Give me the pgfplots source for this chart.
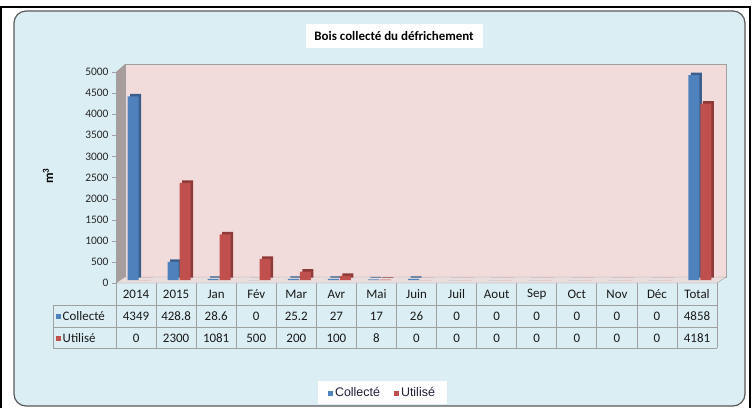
\documentclass[border=0pt]{standalone}
\usepackage{pgfplots}
\pgfplotsset{compat=1.18}
\usepackage{fontspec}
\setmainfont{Carlito}
\newfontfamily\arial{Liberation Sans}
\definecolor{bgblue}{HTML}{DBEEF4}
\definecolor{wallpink}{HTML}{F2DCDB}
\definecolor{wallgray}{HTML}{A69D9C}
\definecolor{floorc}{HTML}{E9DDDD}
\definecolor{cblue}{HTML}{4F81BD}
\definecolor{cbluedk}{HTML}{3A5F8C}
\definecolor{cred}{HTML}{C0504D}
\definecolor{creddk}{HTML}{8E3A38}
\definecolor{gridc}{HTML}{A0A0A0}
\definecolor{legtxt}{HTML}{1F1F3A}

\begin{document}
\begin{tikzpicture}
\begin{scope}[x=1bp,y=-1bp]
\path[use as bounding box] (0,0) rectangle (752,408);
\fill[white] (0,0) rectangle (752,408);
\draw[black,line width=2bp] (1,408) -- (1,6.5) -- (750,6.5) -- (750,408);
\draw[gray!70!black, line width=1.2bp, fill=bgblue, rounded corners=12bp] (14,11) rectangle (745,406);
% title
\node[fill=white, inner sep=0pt, minimum width=177bp, minimum height=23.5bp] at (394,36) {\fontsize{13}{15}\selectfont\bfseries Bois collecté du défrichement};
% y label
\node[rotate=90] at (48,176) {\fontsize{13}{15}\selectfont\bfseries m\textsuperscript{3}};
% 3D walls
\fill[wallgray] (116,72) -- (125,64) -- (125,277) -- (116,283) -- cycle;
\draw[gridc, fill=wallpink] (125,64) rectangle (726,277);
\draw[gridc, fill=floorc] (116,283) -- (125,277) -- (726,277) -- (717,283) -- cycle;
\end{scope}

\begin{axis}[
  at={(116bp,-283bp)}, anchor=south west,
  scale only axis, width=601bp, height=211bp,
  xmin=-0.5, xmax=14.5, ymin=0, ymax=5000,
  ybar, bar width=11bp,
  axis x line=none,
  axis y line*=left,
  y axis line style={draw=gridc},
  ytick={0,500,...,5000},
  major tick length=4bp,
  tick align=outside,
  ytick style={draw=gridc},
  yticklabel style={font=\fontsize{11.5}{12}\selectfont, text=black!85},
  scaled y ticks=false,
  /pgf/number format/1000 sep={},
  /pgf/number format/assume math mode=true,
  clip=false,
  legend style={at={(0.4434,-0.521)}, anchor=center, draw=none, fill=white,
    font=\arial\fontsize{12.5}{13}\selectfont, text=legtxt,
    minimum height=15bp, inner xsep=10bp, inner ysep=4bp},
  legend columns=2,
  /tikz/every even column/.append style={column sep=12bp},
  legend image code/.code={\fill (0bp,-6bp) rectangle (5bp,-1bp);},
]
\addplot[fill=cbluedk, draw=none, bar shift=-0.5bp, yshift=5.5bp, forget plot] coordinates {
(0,4349) (1,428.8) (2,28.6) (3,0) (4,25.2) (5,27) (6,17) (7,26) (8,0) (9,0) (10,0) (11,0) (12,0) (13,0) (14,4858)};
\addplot[fill=cblue, draw=none, bar shift=-3bp, yshift=3bp] coordinates {
(0,4349) (1,428.8) (2,28.6) (3,0) (4,25.2) (5,27) (6,17) (7,26) (8,0) (9,0) (10,0) (11,0) (12,0) (13,0) (14,4858)};
\addplot[fill=creddk, draw=none, bar shift=11.5bp, yshift=5.5bp, forget plot] coordinates {
(0,0) (1,2300) (2,1081) (3,500) (4,200) (5,100) (6,8) (7,0) (8,0) (9,0) (10,0) (11,0) (12,0) (13,0) (14,4181)};
\addplot[fill=cred, draw=none, bar shift=9bp, yshift=3bp] coordinates {
(0,0) (1,2300) (2,1081) (3,500) (4,200) (5,100) (6,8) (7,0) (8,0) (9,0) (10,0) (11,0) (12,0) (13,0) (14,4181)};
\legend{Collecté,Utilisé}
\end{axis}

\begin{scope}[x=1bp,y=-1bp]
% data table
\begin{scope}[gridc, line width=0.8bp]
\foreach \k in {0,...,15} \draw ({116+40.07*\k},283) -- ({116+40.07*\k},348);
\draw (53,305) -- (717,305);
\draw (53,327) -- (717,327);
\draw (53,348) -- (717,348);
\draw (53,305) -- (53,348);
\end{scope}
\begin{scope}[font=\fontsize{13}{14}\selectfont, text=black!90]
\foreach \c [count=\i from 0] in {2014,2015,Jan,Fév,Mar,Avr,Mai,Juin,Juil,Aout,Sep,Oct,Nov,Déc,Total}
  \node at ({116+40.07*(\i+0.5)},294.5) {\c};
\foreach \c [count=\i from 0] in {4349,428.8,28.6,0,25.2,27,17,26,0,0,0,0,0,0,4858}
  \node at ({116+40.07*(\i+0.5)},316.5) {\c};
\foreach \c [count=\i from 0] in {0,2300,1081,500,200,100,8,0,0,0,0,0,0,0,4181}
  \node at ({116+40.07*(\i+0.5)},338) {\c};
\fill[cblue] (56,314) rectangle (61,319);
\node[anchor=west, inner sep=0pt] at (62.5,316.5) {Collecté};
\fill[cred] (56,335.5) rectangle (61,340.5);
\node[anchor=west, inner sep=0pt] at (62.5,338) {Utilisé};
\end{scope}
\end{scope}
\end{tikzpicture}
\end{document}
